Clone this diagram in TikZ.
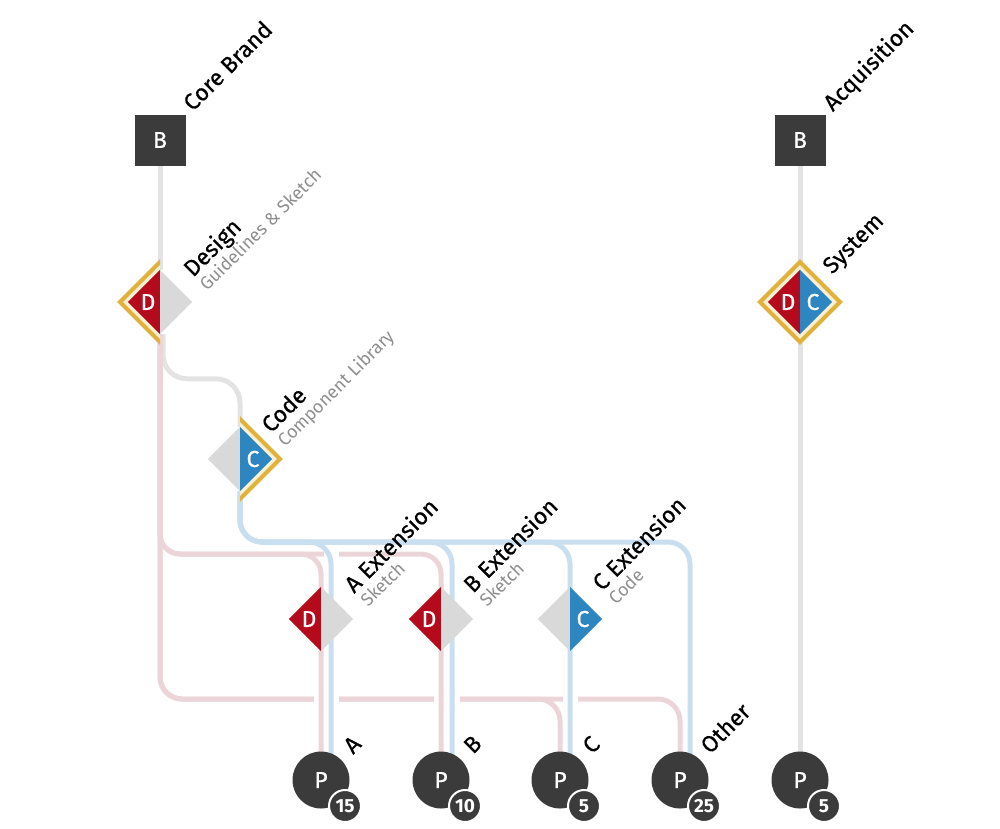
\documentclass[tikz,border=0pt]{standalone}
\usepackage{fontspec}
\setmainfont{Fira Sans}
\newfontfamily\labfont{Fira Sans}[FakeBold=0.6]
\usetikzlibrary{shapes.geometric,calc}
\pgfdeclarelayer{bg}
\pgfsetlayers{bg,main}
\definecolor{dk}{HTML}{3B3B3B}
\definecolor{pk}{HTML}{ECD5D8}
\definecolor{bl}{HTML}{C9DFEF}
\definecolor{gy}{HTML}{E3E3E3}
\definecolor{rd}{HTML}{B40A1C}
\definecolor{cbl}{HTML}{2E86C1}
\definecolor{hg}{HTML}{D9D9D9}
\definecolor{yl}{HTML}{E0B23C}
\definecolor{cr}{HTML}{FAF0D5}
\definecolor{sg}{HTML}{8E8E8E}
\tikzset{
 wire/.style={line width=5pt},
 gwire/.style={wire,draw=gy},
 pwire/.style={wire,draw=pk},
 bwire/.style={wire,draw=bl},
 gapw/.style={line width=15pt,draw=white},
 brandbox/.style={rectangle,fill=dk,minimum size=51pt,inner sep=0pt,text=white,font=\labfont\fontsize{23}{23}\selectfont},
 dia/.style={diamond,minimum size=64pt,inner sep=0pt},
 letter/.style={text=white,inner sep=0pt,font=\labfont\fontsize{23}{23}\selectfont},
 pnode/.style={circle,fill=dk,minimum size=57pt,inner sep=0pt,text=white,font=\labfont\fontsize{23}{23}\selectfont},
 badge/.style={circle,fill=dk,draw=white,line width=2pt,minimum size=32pt,inner sep=0pt,text=white,font=\fontsize{19}{19}\selectfont\bfseries},
 lab/.style={rotate=45,anchor=base west,inner sep=0pt,font=\labfont\fontsize{23}{23}\selectfont},
 slab/.style={rotate=45,anchor=base west,inner sep=0pt,text=sg,font=\fontsize{18}{18}\selectfont},
 hl/.style={fill=cr,draw=yl,line width=4pt},
}
\begin{document}
\begin{tikzpicture}[x=1pt,y=1pt]
\useasboundingbox (0,0) rectangle (1000,-828);
% nodes
\node[brandbox] (cb) at (160,-140) {B};
\node[brandbox] (aq) at (800,-140) {B};
\node[dia] (design) at (160,-302) {};
\node[dia] (code) at (240,-459) {};
\node[dia] (system) at (800,-302) {};
\node[dia] (extA) at (321,-619) {};
\node[dia] (extB) at (441,-619) {};
\node[dia] (extC) at (570,-619) {};
% highlights
\begin{scope}
\clip ($(design.center)+(-50,-50)$) rectangle ($(design.center)+(0,50)$);
\path[hl] ($(design.center)+(0,40)$) -- ($(design.center)+(-40,0)$) -- ($(design.center)+(0,-40)$) -- ($(design.center)+(40,0)$) -- cycle;
\end{scope}
\begin{scope}
\clip ($(code.center)+(0,-50)$) rectangle ($(code.center)+(50,50)$);
\path[hl] ($(code.center)+(0,40)$) -- ($(code.center)+(-40,0)$) -- ($(code.center)+(0,-40)$) -- ($(code.center)+(40,0)$) -- cycle;
\end{scope}
\path[hl] ($(system.center)+(0,40)$) -- ($(system.center)+(-40,0)$) -- ($(system.center)+(0,-40)$) -- ($(system.center)+(40,0)$) -- cycle;
% halves
\fill[rd] (design.north) -- (design.west) -- (design.south) -- cycle;
\fill[hg] (design.north) -- (design.east) -- (design.south) -- cycle;
\fill[hg] (code.north) -- (code.west) -- (code.south) -- cycle;
\fill[cbl] (code.north) -- (code.east) -- (code.south) -- cycle;
\fill[rd] (system.north) -- (system.west) -- (system.south) -- cycle;
\fill[cbl] (system.north) -- (system.east) -- (system.south) -- cycle;
\fill[rd] (extA.north) -- (extA.west) -- (extA.south) -- cycle;
\fill[hg] (extA.north) -- (extA.east) -- (extA.south) -- cycle;
\fill[rd] (extB.north) -- (extB.west) -- (extB.south) -- cycle;
\fill[hg] (extB.north) -- (extB.east) -- (extB.south) -- cycle;
\fill[hg] (extC.north) -- (extC.west) -- (extC.south) -- cycle;
\fill[cbl] (extC.north) -- (extC.east) -- (extC.south) -- cycle;
% letters
\node[letter] (lD1) at ($(design.center)+(-12,0)$) {D};
\node[letter] (lC1) at ($(code.center)+(13,0)$) {C};
\node[letter] (lD2) at ($(system.center)+(-12,0)$) {D};
\node[letter] (lC2) at ($(system.center)+(13,0)$) {C};
\node[letter] (lD3) at ($(extA.center)+(-12,0)$) {D};
\node[letter] (lD4) at ($(extB.center)+(-12,0)$) {D};
\node[letter] (lC3) at ($(extC.center)+(13,0)$) {C};
% products
\node[pnode] (pA) at (321,-780) {P};
\node[pnode] (pB) at (441,-780) {P};
\node[pnode] (pC) at (560,-780) {P};
\node[pnode] (pO) at (680,-780) {P};
\node[pnode] (pQ) at (800,-780) {P};
\node[badge] (nA) at ($(pA.center)+(24,-26)$) {15};
\node[badge] (nB) at ($(pB.center)+(24,-26)$) {10};
\node[badge] (nC) at ($(pC.center)+(24,-26)$) {5};
\node[badge] (nO) at ($(pO.center)+(24,-26)$) {25};
\node[badge] (nQ) at ($(pQ.center)+(24,-26)$) {5};
% helper coordinates
\coordinate (fA) at (331,-780);
\coordinate (fB) at (452,-780);
\coordinate (fC) at (570,-780);
\coordinate (fO) at (690,-780);
\coordinate (rl) at (0,-699);
\coordinate (rp) at (0,-554);
\coordinate (rb) at (0,-542);
% labels
\node[lab] (tCB) at ($(cb.north east)+(7,2)$) {Core Brand};
\node[lab] (tAQ) at ($(aq.north east)+(7,2)$) {Acquisition};
\node[lab] (tD) at ($(design.center)+(33,24)$) {Design};
\node[slab] (sD) at ($(tD.base west)+(14,-14)$) {Guidelines \& Sketch};
\node[lab] (tC) at ($(code.center)+(31,25)$) {Code};
\node[slab] (sC) at ($(tC.base west)+(14,-14)$) {Component Library};
\node[lab] (tS) at ($(system.center)+(32,27)$) {System};
\node[lab] (tA) at ($(extA.center)+(33,25)$) {A Extension};
\node[slab] (sA) at ($(tA.base west)+(14,-14)$) {Sketch};
\node[lab] (tB) at ($(extB.center)+(32,25)$) {B Extension};
\node[slab] (sB) at ($(tB.base west)+(14,-14)$) {Sketch};
\node[lab] (tX) at ($(extC.center)+(32,27)$) {C Extension};
\node[slab] (sX) at ($(tX.base west)+(14,-14)$) {Code};
\node[lab] (qA) at ($(pA.center)+(32,25)$) {A};
\node[lab] (qB) at ($(pB.center)+(32,25)$) {B};
\node[lab] (qC) at ($(pC.center)+(32,25)$) {C};
\node[lab] (qO) at ($(pO.center)+(30,25)$) {Other};
% connectors
\begin{pgfonlayer}{bg}
\draw[gwire] (cb.south) -- (design.north);
\draw[gwire,rounded corners=24pt] ($(design.south)+(3,0)$) |- ($(code.north)+(0,48)$) -- (code.north);
\draw[gwire] (aq.south) -- (pQ.center);
\draw[pwire,rounded corners=22pt] (design.south) |- (rl -| pC) -- (pC.center);
\draw[pwire,rounded corners=22pt] (design.south) |- (rl -| pO) -- (pO.center);
\foreach \c in {pA,fA,pB,fB,fC} \draw[gapw] ($(\c |- rl)+(0,9)$) -- ($(\c |- rl)+(0,-9)$);
\draw[pwire,rounded corners=20pt] (design.south) |- (rp -| extA) -- (pA.center);
\draw[pwire,rounded corners=20pt] (design.south) |- (rp -| extB) -- (pB.center);
\draw[gapw] ($(fA |- rp)+(0,9)$) -- ($(fA |- rp)+(0,-9)$);
\foreach \f in {fA,fB,fC,fO} \draw[bwire,rounded corners=22pt] (code.south) |- (rb -| \f) -- (\f);
\end{pgfonlayer}
\end{tikzpicture}
\end{document}
